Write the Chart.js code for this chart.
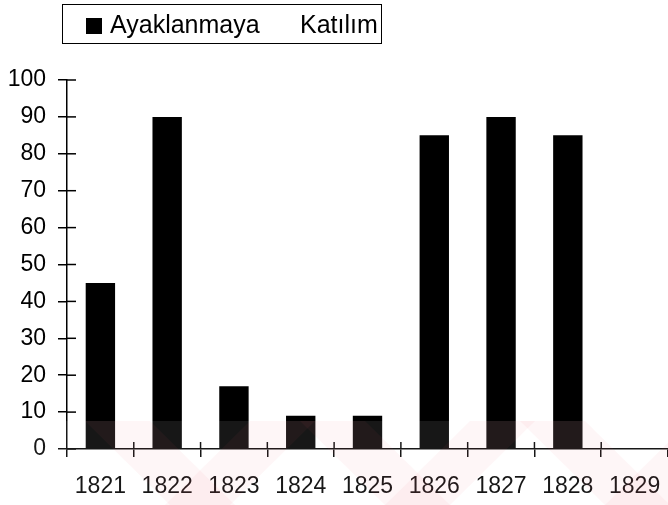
<!DOCTYPE html>
<html>
<head>
<meta charset="utf-8">
<script src="https://cdn.jsdelivr.net/npm/chart.js@4.4.0/dist/chart.umd.min.js"></script>
<style>
  html, body { margin: 0; padding: 0; background: #fff; }
  #wrap { position: relative; width: 668px; height: 505px; overflow: hidden; }
  #legend {
    position: absolute; left: 62px; top: 4px; width: 318px; height: 38px;
    border: 1.5px solid #000; font-family: Arial, "Liberation Sans", sans-serif;
    font-size: 25px; color: #000; box-sizing: content-box;
  }
  #legend .box { position: absolute; left: 23px; top: 13px; width: 16px; height: 16px; background: #000; }
  #legend .txt { position: absolute; top: 5px; white-space: pre; }
</style>
</head>
<body>
<div id="wrap">
  <canvas id="chart" width="668" height="505"></canvas>
  <div id="legend"><span class="box"></span><span class="txt" id="lt1" style="left:47px"></span><span class="txt" id="lt2" style="left:237px"></span></div>
</div>
<script>
// Veriler
const years = ["1821", "1822", "1823", "1824", "1825", "1826", "1827", "1828", "1829"];
const katilim = [45, 90, 17, 9, 9, 85, 90, 85, 0];
const legendLabel = "Ayaklanmaya Katılım";
const yTicks = [0, 10, 20, 30, 40, 50, 60, 70, 80, 90, 100];

// Lejant metni iki parça halinde (orijinaldeki geniş boşluk için)
const legendParts = legendLabel.split(" ");
document.getElementById("lt1").textContent = legendParts[0];
document.getElementById("lt2").textContent = legendParts[1];

const FONT = "Arial, 'Liberation Sans', sans-serif";

// Eksen çizgisini kesen tik işaretleri (içeri taşan kısım)
const crossTicks = {
  id: "crossTicks",
  afterDatasetsDraw(chart) {
    const { ctx, chartArea, scales } = chart;
    ctx.save();
    ctx.strokeStyle = "#000";
    ctx.lineWidth = 1.5;
    scales.y.ticks.forEach((t, i) => {
      const y = scales.y.getPixelForTick(i);
      ctx.beginPath();
      ctx.moveTo(chartArea.left, y);
      ctx.lineTo(chartArea.left + 9, y);
      ctx.stroke();
    });
    const step = (chartArea.right - chartArea.left) / years.length;
    for (let i = 1; i < years.length; i++) {
      const x = scales.x.getPixelForValue(i) - step / 2;
      ctx.beginPath();
      ctx.moveTo(x, chartArea.bottom);
      ctx.lineTo(x, chartArea.bottom - 7);
      ctx.stroke();
    }
    ctx.restore();
  },
};

// Tarama filigranı (soluk pembe)
const watermark = {
  id: "watermark",
  afterDraw(chart) {
    const { ctx } = chart;
    ctx.save();
    ctx.fillStyle = "rgba(255,255,255,0.09)";
    ctx.fillRect(0, 421, 668, 84);
    ctx.fillStyle = "rgba(235,90,115,0.055)";
    const strips = [
      [85, 170], [300, 385], [520, 605],
      [250, 165], [470, 385], [690, 605],
    ];
    strips.forEach(([top, bot]) => {
      ctx.beginPath();
      ctx.moveTo(top, 421); ctx.lineTo(top + 65, 421);
      ctx.lineTo(bot + 65, 505); ctx.lineTo(bot, 505);
      ctx.closePath(); ctx.fill();
    });
    ctx.restore();
  },
};

const chart = new Chart(document.getElementById("chart").getContext("2d"), {
  type: "bar",
  data: {
    labels: years,
    datasets: [
      {
        label: legendLabel,
        data: katilim,
        backgroundColor: "#000",
        borderWidth: 0,
        categoryPercentage: 1,
        barPercentage: 0.44,
      },
    ],
  },
  options: {
    responsive: false,
    animation: false,
    layout: { padding: { top: 80, right: 0, left: 0, bottom: 0 } },
    plugins: { legend: { display: false }, tooltip: { enabled: false } },
    scales: {
      x: {
        grid: { display: true, drawOnChartArea: false, offset: true, tickLength: 8, color: "#000", lineWidth: 1.5 },
        border: { display: true, color: "#000", width: 1.5 },
        ticks: { color: "#000", font: { family: FONT, size: 23 }, padding: 16, maxRotation: 0 },
        afterFit(scale) {
          scale.height = 56;
          scale.paddingLeft = 0;
          scale.paddingRight = 0;
        },
      },
      y: {
        min: 0,
        max: 100,
        afterBuildTicks(scale) { scale.ticks = yTicks.map((v) => ({ value: v })); },
        grid: { display: true, drawOnChartArea: false, tickLength: 9, color: "#000", lineWidth: 1.5 },
        border: { display: true, color: "#000", width: 1.5 },
        ticks: { color: "#000", font: { family: FONT, size: 23 }, padding: 12 },
        afterFit(scale) { scale.width = 67; },
      },
    },
  },
  plugins: [crossTicks, watermark],
});
</script>
</body>
</html>
